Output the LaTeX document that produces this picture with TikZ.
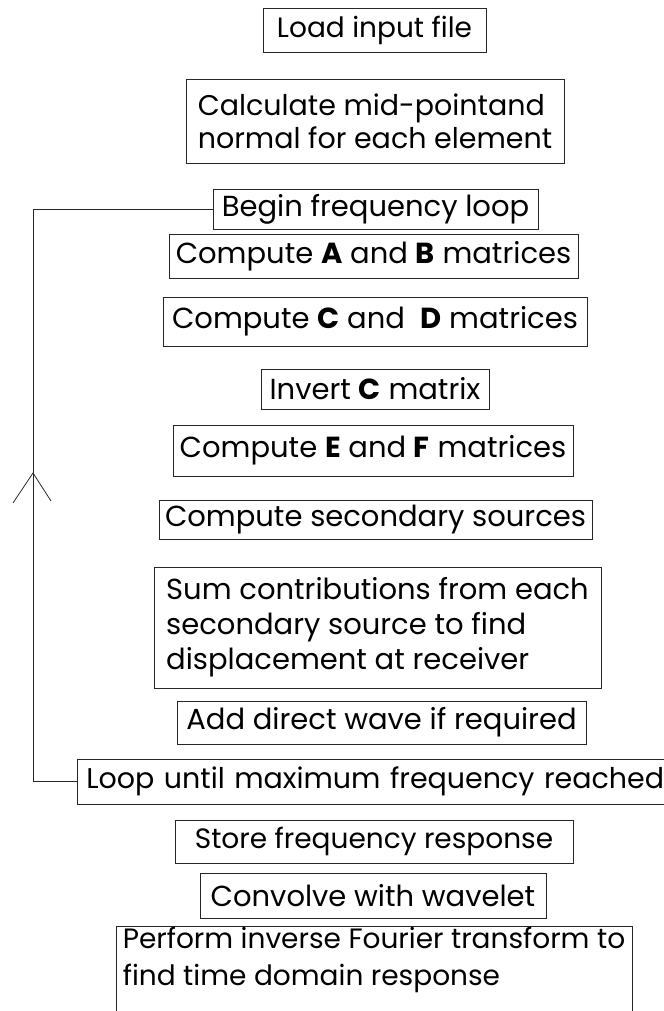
\documentclass[tikz,border=0pt]{standalone}
\usepackage{fontspec}
\setmainfont{Poppins}
\begin{document}
\begin{tikzpicture}[x=1bp,y=-1bp,
  box/.style={draw=black!85, line width=0.8bp, inner sep=0pt, align=left, font=\fontsize{29bp}{35bp}\selectfont},
  conn/.style={draw=black!85, line width=0.8bp}]
\useasboundingbox (0,0) rectangle (664,1011);
\clip (0,0) rectangle (664,1011);
\newcommand\mybox[7][]{\node[box, #1, minimum width={#5bp-#3bp}, minimum height={#6bp-#4bp}] (#2) at ({(#3+#5)/2},{(#4+#6)/2}) {#7};}
\mybox[font=\fontsize{28bp}{34bp}\selectfont]{load}{263}{8}{486}{52}{Load input file}
\mybox[font=\fontsize{28.5bp}{33bp}\selectfont]{calc}{186}{79}{564}{163}{Calculate mid-pointand\\normal for each element}
\mybox{begin}{213}{189}{538}{229}{Begin frequency loop}
\mybox{ab}{169}{234}{578}{278}{Compute \textbf{A} and \textbf{B} matrices}
\mybox{cd}{163}{297}{587}{346}{Compute \textbf{C} and\ \ \textbf{D} matrices}
\mybox{inv}{261}{369}{489}{409}{Invert \textbf{C} matrix}
\mybox{ef}{173}{425}{573}{476}{Compute \textbf{E} and \textbf{F} matrices}
\mybox{sec}{159}{500}{592}{539}{Compute secondary sources}
\mybox{sum}{154}{567}{601}{688}{Sum contributions from each\\secondary source to find\\displacement at receiver}
\mybox{add}{177}{701}{586}{744}{Add direct wave if required}
\node[box, font=\fontsize{28.5bp}{34bp}\selectfont, anchor=west, inner xsep=9bp, text width=580bp, minimum height=45bp] (loop) at (77,781.5) {Loop until maximum frequency reached};
\mybox[font=\fontsize{28bp}{34bp}\selectfont]{store}{175}{820}{573}{863}{Store frequency response}
\mybox{conv}{200}{873}{546}{918}{Convolve with wavelet}
\node[box, font=\fontsize{28bp}{37bp}\selectfont, anchor=north, minimum width=516bp, inner ysep=1bp, text depth=60bp] (perf) at (374,926) {Perform inverse Fourier transform to\\find time domain response};
\draw[conn] (loop.west) -- ++(-44,0) |- (begin.west);
\coordinate (tip) at (33,473);
\draw[conn] ([shift={(-20,30)}]tip) -- (tip) -- ([shift={(18,28)}]tip);
\end{tikzpicture}
\end{document}
